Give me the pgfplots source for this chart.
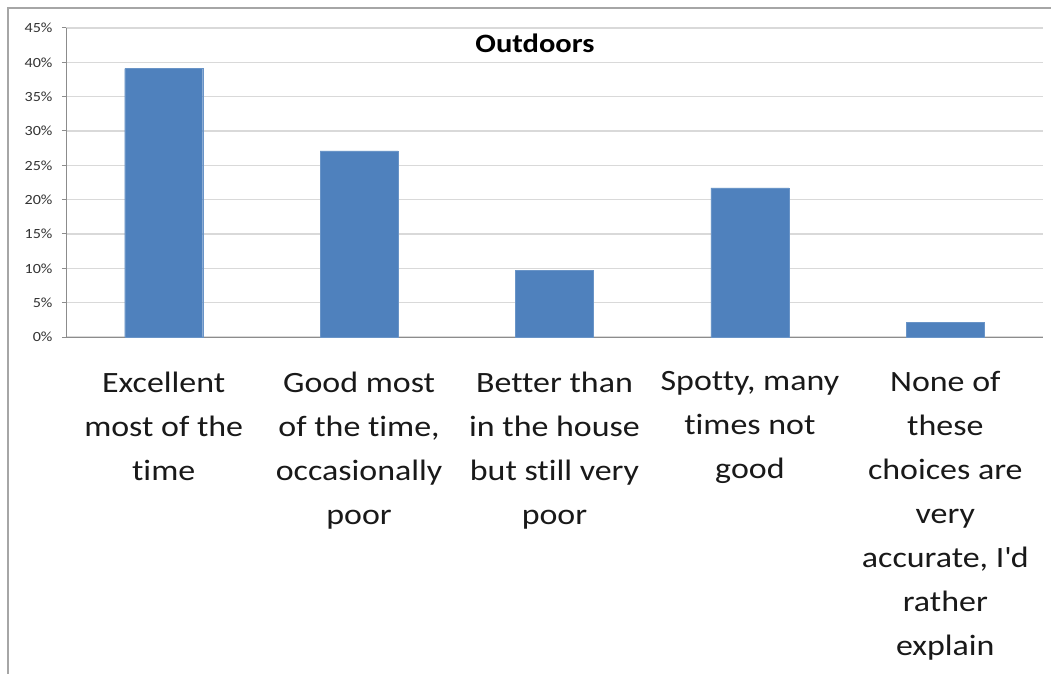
\documentclass[border=0pt]{standalone}
\usepackage{fontspec}
\setmainfont{Carlito}[FakeStretch=1.15, Ligatures={NoCommon}]
\usepackage{pgfplots}
\pgfplotsset{compat=1.18}
\definecolor{barblue}{HTML}{4F81BD}
\definecolor{gridgray}{HTML}{D9D9D9}
\definecolor{axgray}{HTML}{8C8C8C}
\begin{document}
\begin{tikzpicture}
\path[use as bounding box, fill=white] (0,0) rectangle (1051bp,674bp);
\draw[color=gray!70, line width=1.5bp] (8bp,0) -- (8bp,666bp) -- (1051bp,666bp);
\begin{axis}[
  at={(66bp,337bp)}, anchor=south west,
  width=977bp, height=309bp, scale only axis,
  xmin=-0.5, xmax=4.5, ymin=0, ymax=45,
  axis x line=bottom, axis y line=left,
  axis line style={-, axgray, line width=1bp},
  ybar, bar width=78bp,
  xtick={0,1,2,3,4},
  xticklabels={{Excellent\\most of the\\time},
               {Good most\\of the time,\\occasionally\\poor},
               {Better than\\in the house\\but still very\\poor},
               {Spotty, many\\times not\\good},
               {None of\\these\\choices are\\very\\accurate, I\textquotesingle d\\rather\\explain}},
  xticklabel style={font=\fontsize{29.5bp}{44bp}\selectfont, align=center, anchor=north, yshift=-27bp, text=black!90},
  minor xtick={-0.5,0.5,1.5,2.5,3.5,4.5},
  xtick style={draw=none},
  minor tick style={axgray, line width=1bp},
  minor tick length=10bp,
  tick align=outside,
  major tick length=4bp,
  ytick={0,5,...,45},
  yticklabels={0\%,5\%,10\%,15\%,20\%,25\%,30\%,35\%,40\%,45\%},
  yticklabel style={font=\fontsize{14bp}{16bp}\selectfont, text=black!80, xshift=-6bp},
  ytick style={axgray, line width=1bp},
  ymajorgrids,
  grid style={gridgray, line width=1.5bp},
  title={\textbf{Outdoors}},
  title style={at={(axis description cs:0.48,0.93)}, anchor=center, font=\fontsize{26.5bp}{30bp}\selectfont},
  clip=false,
]
\addplot[fill=barblue, draw=barblue!85!white] coordinates {(0,39.1) (1,27.1) (2,9.72) (3,21.7) (4,2.1)};
\end{axis}
\end{tikzpicture}
\end{document}
